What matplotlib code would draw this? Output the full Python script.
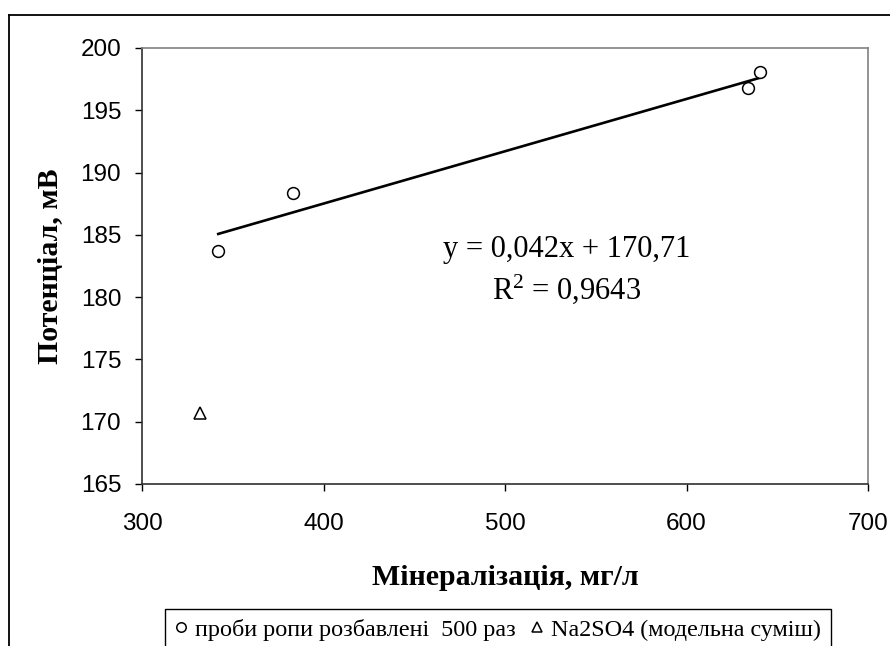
import matplotlib
matplotlib.use('agg')
import matplotlib.pyplot as plt
from matplotlib.lines import Line2D
import numpy as np

plt.rcParams['mathtext.fontset'] = 'custom'
plt.rcParams['mathtext.rm'] = 'Liberation Serif'
plt.rcParams['mathtext.default'] = 'regular'

# brine samples diluted 500 times
brine_x = [342, 383, 634, 640.5]
brine_y = [183.7, 188.4, 196.8, 198.05]
# Na2SO4 model mixture
na2so4_x = [332]
na2so4_y = [170.7]

# linear trend for brine samples
slope = 0.042
intercept = 170.71
r2 = 0.9643

xticks = [300, 400, 500, 600, 700]
yticks = [165, 170, 175, 180, 185, 190, 195, 200]

fig = plt.figure(figsize=(8.9, 6.46), dpi=100)
W, H = 890, 646
ax = fig.add_axes([142 / W, 1 - 484 / H, 726 / W, 436 / H])

ax.plot(brine_x, brine_y, linestyle='none', marker='o', markersize=8.5,
        markerfacecolor='white', markeredgecolor='black', markeredgewidth=1.1,
        label='проби ропи розбавлені  500 раз', zorder=3)
ax.plot(na2so4_x, na2so4_y, linestyle='none', marker='^', markersize=9,
        markerfacecolor='white', markeredgecolor='black', markeredgewidth=1.1,
        label='Na2SO4 (модельна суміш)', zorder=3)

tx = np.array([min(brine_x), max(brine_x)])
ax.plot(tx, slope * tx + intercept, color='black', linewidth=1.9, zorder=2)

ax.text(0.585, 0.538,
        'y = {:.3f}x + {:.2f}'.format(slope, intercept).replace('.', ','),
        transform=ax.transAxes, ha='center', va='center',
        fontsize=22, family='Liberation Serif')
ax.text(0.585, 0.446, r'R$^{2}$ = ' + '{:.4f}'.format(r2).replace('.', ','),
        transform=ax.transAxes, ha='center', va='center',
        fontsize=22, family='Liberation Serif')

ax.set_xlim(300, 700)
ax.set_ylim(165, 200)
ax.set_xticks(xticks)
ax.set_yticks(yticks)
ax.tick_params(direction='out', length=5, width=1, labelsize=17.5)
for lab in ax.get_xticklabels() + ax.get_yticklabels():
    lab.set_family('Liberation Sans')
ax.xaxis.set_tick_params(pad=16)
ax.yaxis.set_tick_params(pad=10)

for side in ['top', 'right']:
    ax.spines[side].set_color('#808080')
    ax.spines[side].set_linewidth(1.2)
for side in ['left', 'bottom']:
    ax.spines[side].set_color('#303030')
    ax.spines[side].set_linewidth(1.2)

ax.set_xlabel('Мінералізація, мг/л', family='Liberation Serif',
              fontweight='bold', fontsize=21.5, labelpad=21)
ax.set_ylabel('Потенціал, мВ', family='Liberation Serif',
              fontweight='bold', fontsize=21.5, labelpad=12)

leg = fig.legend(loc='upper left', bbox_to_anchor=(165 / W, 1 - 609 / H),
                 bbox_transform=fig.transFigure, ncol=2, frameon=True,
                 fancybox=False, edgecolor='black', framealpha=1,
                 prop={'family': 'Liberation Serif', 'size': 17.4},
                 handlelength=0.5, handletextpad=0.35, columnspacing=0.6,
                 borderpad=0.4, borderaxespad=0, markerscale=0.8)
leg.get_frame().set_linewidth(1.0)

# outer chart frame
fig.add_artist(Line2D([9 / W, 1], [1 - 15 / H, 1 - 15 / H], color='black',
                      linewidth=1.3, transform=fig.transFigure))
fig.add_artist(Line2D([9 / W, 9 / W], [0, 1 - 15 / H], color='black',
                      linewidth=1.3, transform=fig.transFigure))

fig.savefig('out.png', dpi=100)
